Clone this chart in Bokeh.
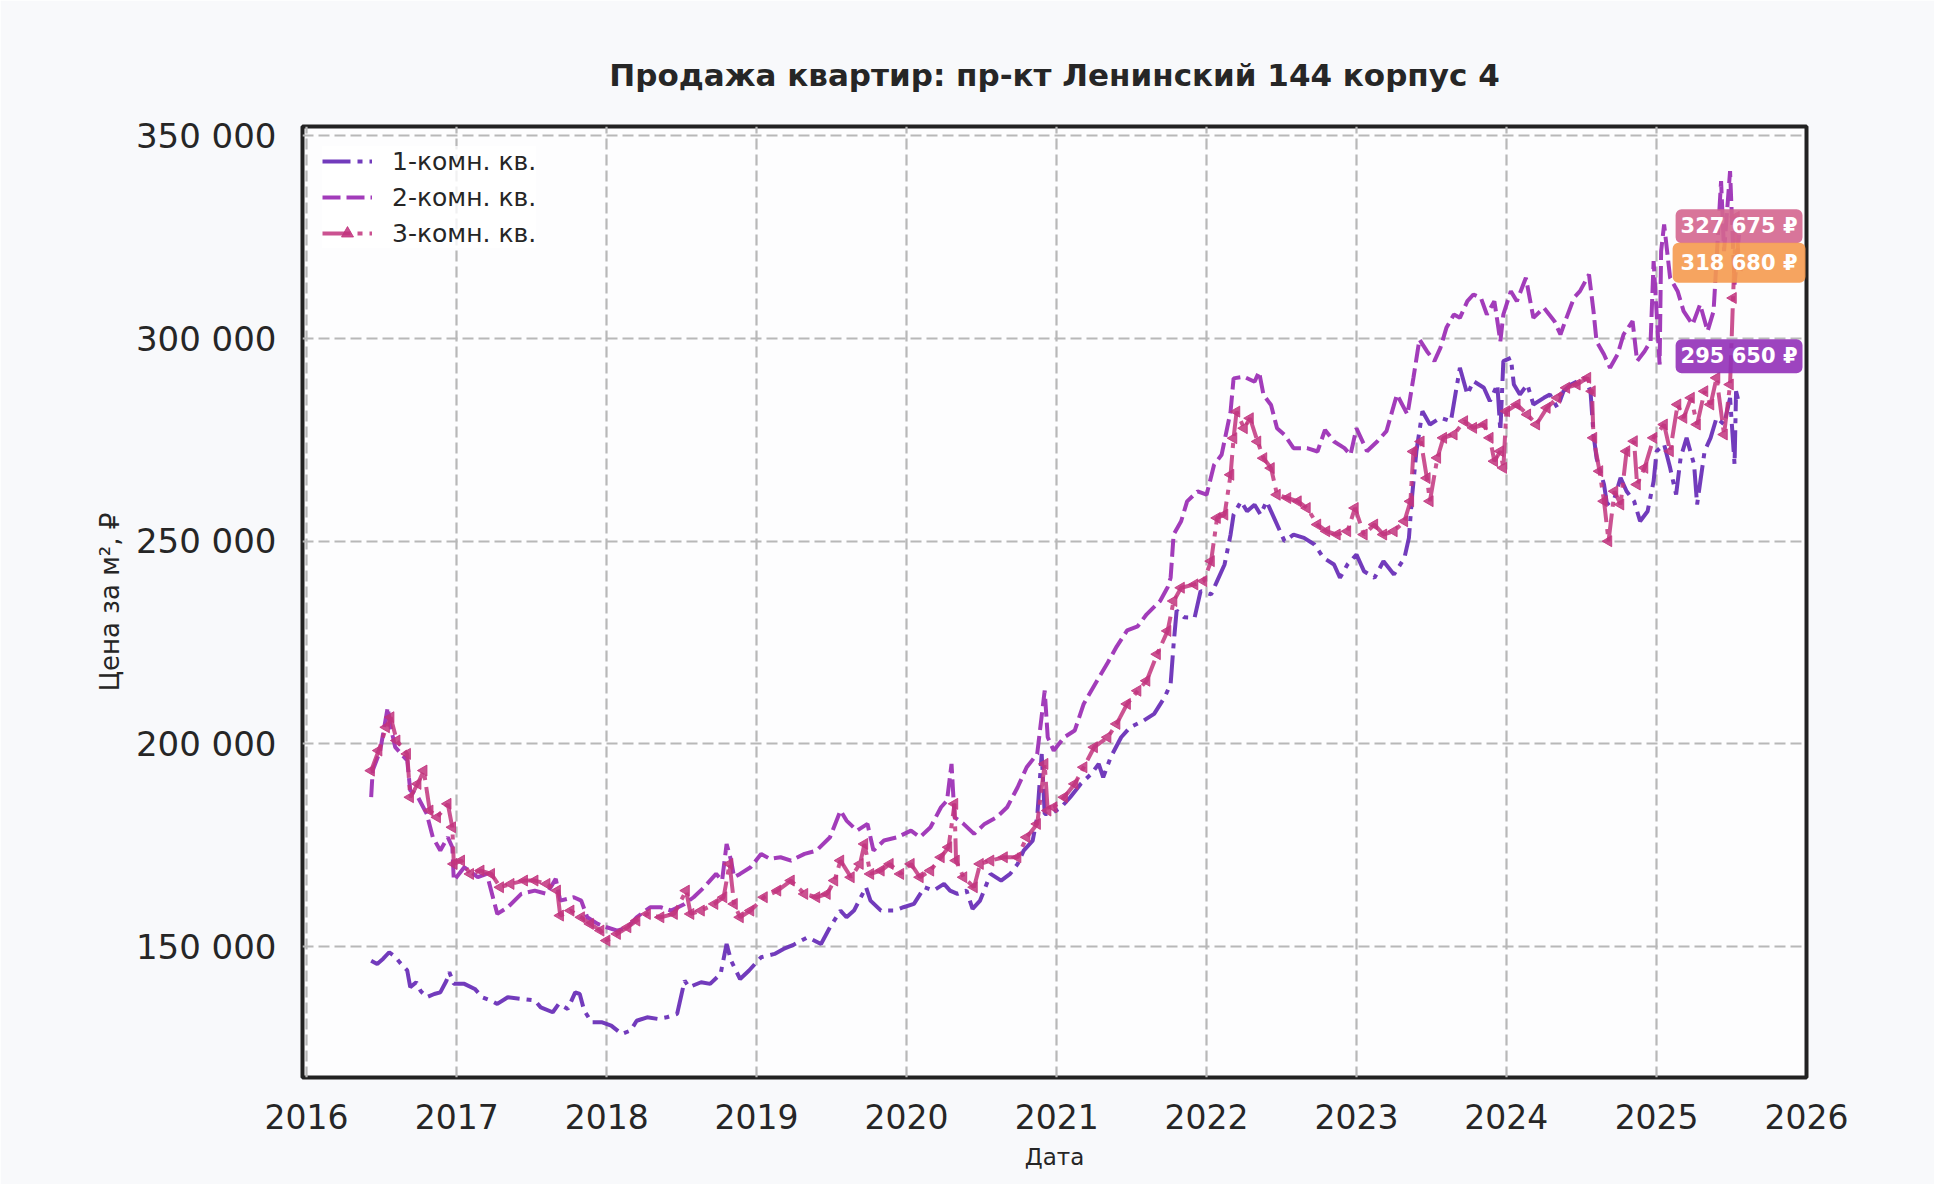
import math
import pandas as pd
from bokeh.plotting import figure
from bokeh.models import (Range1d, FixedTicker, Legend, LegendItem, Label,
                          DatetimeTickFormatter)
from bokeh.embed import file_html
from bokeh.resources import INLINE

# ---------------- data (decimal years, price per m2) ----------------
title_text = "Продажа квартир: пр-кт Ленинский 144 корпус 4"
series_names = ["1-комн. кв.", "2-комн. кв.", "3-комн. кв."]
year_ticks = [2016, 2017, 2018, 2019, 2020, 2021, 2022, 2023, 2024, 2025, 2026]
price_ticks = [150000, 200000, 250000, 300000, 350000]
price_tick_labels = ["150 000", "200 000", "250 000", "300 000", "350 000"]

dates_1 = [2016.43, 2016.47, 2016.51, 2016.55, 2016.59, 2016.62, 2016.67, 2016.69, 2016.73, 2016.76,
           2016.80, 2016.85, 2016.89, 2016.93, 2016.95, 2016.98, 2017.05, 2017.12, 2017.17, 2017.22,
           2017.27, 2017.34, 2017.43, 2017.52, 2017.56, 2017.64, 2017.68, 2017.74, 2017.79, 2017.82,
           2017.85, 2017.90, 2017.97, 2018.03, 2018.10, 2018.16, 2018.20, 2018.27, 2018.34, 2018.40,
           2018.47, 2018.52, 2018.55, 2018.63, 2018.69, 2018.76, 2018.80, 2018.83, 2018.89, 2018.95,
           2019.03, 2019.12, 2019.18, 2019.25, 2019.34, 2019.43, 2019.49, 2019.56, 2019.60, 2019.65,
           2019.73, 2019.76, 2019.83, 2019.92, 2019.98, 2020.05, 2020.12, 2020.18, 2020.25, 2020.29,
           2020.34, 2020.40, 2020.44, 2020.49, 2020.56, 2020.63, 2020.69, 2020.74, 2020.78, 2020.84,
           2020.87, 2020.90, 2020.92, 2020.96, 2021.03, 2021.09, 2021.16, 2021.23, 2021.28, 2021.31,
           2021.36, 2021.43, 2021.49, 2021.58, 2021.65, 2021.72, 2021.76, 2021.78, 2021.80, 2021.85,
           2021.92, 2021.96, 2022.03, 2022.07, 2022.12, 2022.16, 2022.18, 2022.23, 2022.27, 2022.32,
           2022.36, 2022.40, 2022.45, 2022.52, 2022.58, 2022.65, 2022.72, 2022.78, 2022.85, 2022.89,
           2022.94, 2023.00, 2023.05, 2023.12, 2023.18, 2023.25, 2023.32, 2023.35, 2023.37, 2023.40,
           2023.44, 2023.49, 2023.56, 2023.63, 2023.69, 2023.74, 2023.78, 2023.85, 2023.89, 2023.94,
           2023.96, 2023.98, 2024.03, 2024.05, 2024.09, 2024.14, 2024.18, 2024.25, 2024.29, 2024.34,
           2024.38, 2024.43, 2024.52, 2024.56, 2024.58, 2024.60, 2024.65, 2024.67, 2024.72, 2024.76,
           2024.80, 2024.85, 2024.89, 2024.94, 2024.98, 2025.00, 2025.05, 2025.09, 2025.13, 2025.16,
           2025.20, 2025.25, 2025.27, 2025.32, 2025.36, 2025.40, 2025.45, 2025.49, 2025.52, 2025.53,
           2025.55]
price_1 = [146500, 145700, 147000, 148600, 147500, 146100, 144100, 140000, 141200, 139000,
           137500, 138300, 138700, 141500, 143700, 140800, 140800, 139550, 137500, 136800,
           135850, 137500, 137100, 136700, 135000, 133800, 135850, 134600, 138700, 138300,
           134200, 131300, 131300, 130500, 128450, 129300, 131700, 132550, 132150, 132550,
           133400, 141600, 140000, 141200, 140800, 143250, 150650, 146500, 142000, 144100,
           147360, 148190, 149420, 150500, 152300, 150650, 154760, 158870, 157230, 158870,
           164630, 161340, 158870, 158870, 159700, 160520, 164630, 163800, 165450, 163800,
           162980, 163800, 159280, 161340, 167920, 166280, 167920, 170390, 173680, 176150,
           181900, 197500, 182700, 182720, 184370, 186840, 190130, 192590, 195060, 191770,
           196700, 201640, 204100, 205750, 207390, 211500, 214800, 224660, 232890, 231240,
           231140, 237700, 236880, 240160, 244260, 251640, 256560, 259830, 257370, 259010,
           256560, 259830, 255740, 250000, 251640, 250820, 249180, 245900, 244260, 240980,
           244260, 246720, 242600, 240950, 245070, 241780, 245890, 250820, 260690, 272200,
           282070, 278790, 280430, 279610, 292770, 286190, 289480, 287840, 284550, 288650,
           277140, 294410, 295230, 288650, 286190, 288650, 283720, 285360, 286190, 282890,
           286990, 288650, 290290, 286990, 276320, 270560, 263980, 259050, 260690, 265620,
           262330, 259870, 254930, 257400, 264800, 272200, 273850, 268090, 261510, 270560,
           275490, 268910, 259050, 272200, 275490, 280430, 278790, 285360, 268910, 287000,
           284000]

dates_2 = [2016.43, 2016.44, 2016.49, 2016.54, 2016.56, 2016.59, 2016.67, 2016.69, 2016.73, 2016.80,
           2016.84, 2016.89, 2016.94, 2016.97, 2016.98, 2017.05, 2017.14, 2017.20, 2017.27, 2017.34,
           2017.43, 2017.52, 2017.60, 2017.66, 2017.69, 2017.78, 2017.83, 2017.87, 2017.94, 2018.00,
           2018.07, 2018.14, 2018.20, 2018.29, 2018.36, 2018.43, 2018.52, 2018.58, 2018.65, 2018.73,
           2018.77, 2018.80, 2018.83, 2018.85, 2018.89, 2018.96, 2019.03, 2019.09, 2019.16, 2019.23,
           2019.32, 2019.40, 2019.49, 2019.56, 2019.60, 2019.67, 2019.74, 2019.78, 2019.85, 2019.94,
           2020.03, 2020.09, 2020.16, 2020.23, 2020.27, 2020.30, 2020.32, 2020.38, 2020.45, 2020.52,
           2020.60, 2020.67, 2020.74, 2020.80, 2020.87, 2020.92, 2020.94, 2020.98, 2021.05, 2021.12,
           2021.18, 2021.27, 2021.34, 2021.40, 2021.47, 2021.54, 2021.60, 2021.69, 2021.74, 2021.76,
           2021.78, 2021.83, 2021.87, 2021.94, 2022.00, 2022.05, 2022.10, 2022.16, 2022.18, 2022.25,
           2022.32, 2022.35, 2022.38, 2022.43, 2022.47, 2022.52, 2022.58, 2022.67, 2022.74, 2022.79,
           2022.85, 2022.92, 2022.96, 2023.00, 2023.07, 2023.14, 2023.20, 2023.27, 2023.34, 2023.38,
           2023.42, 2023.47, 2023.52, 2023.56, 2023.60, 2023.65, 2023.69, 2023.74, 2023.78, 2023.83,
           2023.87, 2023.92, 2023.96, 2023.98, 2024.03, 2024.07, 2024.13, 2024.18, 2024.25, 2024.32,
           2024.36, 2024.40, 2024.45, 2024.49, 2024.55, 2024.58, 2024.60, 2024.65, 2024.69, 2024.74,
           2024.78, 2024.84, 2024.87, 2024.92, 2024.96, 2024.98, 2025.02, 2025.03, 2025.05, 2025.09,
           2025.14, 2025.18, 2025.24, 2025.29, 2025.34, 2025.38, 2025.43, 2025.45, 2025.49, 2025.52,
           2025.55]
price_2 = [186840, 193400, 198350, 209000, 204100, 199200, 195900, 188480, 187660, 182730,
           176970, 173680, 176970, 174500, 166280, 169570, 167100, 167920, 158050, 159700,
           163000, 163800, 163000, 166700, 161340, 162170, 161340, 157230, 155590, 154760,
           153940, 154760, 157230, 159700, 159700, 158870, 160520, 162170, 164630, 167920,
           166280, 175325, 171210, 167100, 167920, 169570, 172860, 171620, 172030, 171210,
           172860, 173680, 176970, 183550, 181080, 178610, 180260, 173680, 176150, 176970,
           178610, 176970, 179430, 184370, 186020, 195060, 181900, 180260, 177790, 180260,
           181900, 184370, 189300, 194240, 197530, 213150, 201640, 198350, 201640, 203290,
           209860, 215620, 220000, 224000, 228000, 229000, 231960, 235240, 238650, 240980,
           251640, 254920, 259830, 262290, 261470, 268850, 271310, 281960, 290160, 290570,
           289340, 291800, 286070, 283600, 277870, 276230, 272950, 272950, 272130, 277460,
           274590, 272950, 271310, 277870, 272200, 274670, 277140, 286190, 281250, 290290,
           299750, 296870, 294410, 297700, 302630, 305920, 305100, 309210, 310860, 310040,
           305920, 309210, 299340, 305920, 311680, 309210, 314970, 305100, 307570, 304280,
           300990, 305100, 310040, 311680, 315790, 306740, 299340, 296050, 292770, 296050,
           300990, 304280, 294410, 296870, 299340, 319080, 293580, 321550, 328130, 314970,
           311680, 306740, 303450, 308390, 301810, 306740, 338820, 321550, 341290, 313320,
           325660]

dates_3 = [2016.43, 2016.48, 2016.53, 2016.56, 2016.60, 2016.67, 2016.69, 2016.74, 2016.78, 2016.82,
           2016.87, 2016.94, 2016.97, 2016.98, 2017.03, 2017.09, 2017.16, 2017.23, 2017.29, 2017.36,
           2017.45, 2017.52, 2017.60, 2017.67, 2017.69, 2017.76, 2017.83, 2017.89, 2017.96, 2018.00,
           2018.07, 2018.14, 2018.20, 2018.27, 2018.36, 2018.45, 2018.53, 2018.56, 2018.63, 2018.72,
           2018.78, 2018.82, 2018.85, 2018.89, 2018.96, 2019.05, 2019.14, 2019.23, 2019.32, 2019.40,
           2019.47, 2019.52, 2019.56, 2019.63, 2019.69, 2019.72, 2019.76, 2019.83, 2019.89, 2019.96,
           2020.03, 2020.09, 2020.16, 2020.23, 2020.28, 2020.32, 2020.33, 2020.38, 2020.45, 2020.49,
           2020.56, 2020.65, 2020.74, 2020.80, 2020.87, 2020.92, 2020.94, 2020.98, 2021.05, 2021.12,
           2021.18, 2021.25, 2021.34, 2021.40, 2021.47, 2021.54, 2021.60, 2021.67, 2021.74, 2021.78,
           2021.83, 2021.92, 2021.98, 2022.03, 2022.07, 2022.12, 2022.16, 2022.18, 2022.20, 2022.25,
           2022.29, 2022.34, 2022.38, 2022.43, 2022.47, 2022.54, 2022.61, 2022.67, 2022.74, 2022.80,
           2022.87, 2022.94, 2022.99, 2023.05, 2023.12, 2023.18, 2023.25, 2023.32, 2023.36, 2023.38,
           2023.43, 2023.47, 2023.49, 2023.54, 2023.58, 2023.65, 2023.72, 2023.78, 2023.85, 2023.89,
           2023.92, 2023.96, 2023.98, 2024.00, 2024.07, 2024.14, 2024.20, 2024.27, 2024.34, 2024.40,
           2024.47, 2024.54, 2024.57, 2024.58, 2024.62, 2024.65, 2024.68, 2024.72, 2024.76, 2024.80,
           2024.85, 2024.87, 2024.92, 2024.98, 2025.05, 2025.09, 2025.14, 2025.18, 2025.23, 2025.27,
           2025.32, 2025.36, 2025.40, 2025.45, 2025.49, 2025.51, 2025.53, 2025.55]
price_3 = [193400, 198350, 204100, 206575, 200820, 197530, 186840, 190130, 193420, 183550,
           181900, 185200, 179430, 170390, 171210, 167920, 168740, 167920, 164630, 165450,
           166280, 166280, 165450, 163800, 157640, 158870, 157230, 155590, 153940, 151480,
           153120, 154760, 156410, 158050, 157230, 158050, 163800, 158050, 158870, 160520,
           162170, 170390, 160520, 157230, 158870, 162170, 163800, 166280, 162980, 162170,
           162980, 166280, 171210, 167100, 170390, 175320, 167920, 168740, 170390, 167920,
           170390, 167100, 168740, 172030, 174500, 185200, 171210, 167100, 164630, 170390,
           171210, 172030, 172030, 176970, 180260, 195060, 183550, 184370, 186840, 190130,
           194240, 199180, 201640, 204930, 209860, 213110, 215570, 222130, 227870, 235240,
           238520, 239340, 240160, 245080, 255740, 256560, 266390, 275410, 281960, 277870,
           280330, 274590, 270490, 268030, 261470, 260650, 259830, 258190, 254100, 252460,
           251640, 252460, 258190, 251640, 254100, 251640, 252460, 254920, 259830, 272130,
           274590, 265570, 259870, 270560, 275490, 276320, 279610, 277960, 278790, 275490,
           269740, 272200, 268090, 282070, 283720, 281250, 278790, 282890, 285360, 287840,
           288650, 290290, 286990, 275490, 267270, 259870, 250000, 262330, 259050, 272200,
           274670, 263980, 268090, 275490, 278790, 272200, 283720, 280430, 285360, 278790,
           286990, 283720, 290290, 276320, 288650, 310000, 330000, 318000]

badge_values = [327675, 318680, 295650]
badge_texts = ["327 675 ₽", "318 680 ₽", "295 650 ₽"]
badge_colors = ["#d4668f", "#f59a4f", "#9230b8"]
badge_pads = [5, 8, 5]

line_colors = ["#6a30b8", "#9d32b6", "#c2347e"]
FONT = "DejaVu Sans"
TXT = "#262626"


def to_dt(years):
    out = []
    for y in years:
        y0 = int(math.floor(y))
        a = pd.Timestamp(year=y0, month=1, day=1)
        b = pd.Timestamp(year=y0 + 1, month=1, day=1)
        out.append(a + (b - a) * (y - y0))
    return out


def ms(ts):
    return ts.value / 1e6


x1, x2, x3 = to_dt(dates_1), to_dt(dates_2), to_dt(dates_3)

x_start = ms(to_dt([2015.973])[0])
x_end = ms(to_dt([2026.0])[0])

p = figure(width=1934, height=1184, x_axis_type="datetime",
           output_backend="svg", toolbar_location=None,
           x_range=Range1d(x_start, x_end), y_range=Range1d(117700, 352300),
           min_border_left=302, min_border_right=128, min_border_top=126,
           min_border_bottom=107)

p.border_fill_color = "#f8f9fb"
p.background_fill_color = "#fdfdfe"
p.outline_line_color = "#222222"
p.outline_line_width = 4

# title
p.title.text = title_text
p.title.align = "center"
p.title.text_font = FONT
p.title.text_font_size = "31px"
p.title.text_font_style = "bold"
p.title.text_color = TXT
p.title.standoff = 68

# grid
for g in (p.xgrid, p.ygrid):
    g.grid_line_color = "#b8b8b8"
    g.grid_line_width = 2.2
    g.grid_line_dash = "11 5"

# axes
year_ms = [ms(pd.Timestamp(year=y, month=1, day=1)) for y in year_ticks]
p.xaxis.ticker = FixedTicker(ticks=year_ms)
p.xaxis.formatter = DatetimeTickFormatter(years="%Y", months="%Y", days="%Y",
                                          hours="%Y", minutes="%Y")
p.xaxis.major_label_overrides = {t: str(y) for t, y in zip(year_ms, year_ticks)}
p.yaxis.ticker = FixedTicker(ticks=price_ticks)
p.yaxis.major_label_overrides = {t: s for t, s in zip(price_ticks, price_tick_labels)}

for ax in (p.xaxis, p.yaxis):
    ax.axis_line_color = None
    ax.major_tick_line_color = None
    ax.minor_tick_line_color = None
    ax.major_tick_out = 0
    ax.major_tick_in = 0
    ax.major_label_text_font = FONT
    ax.major_label_text_color = TXT
    ax.axis_label_text_font = FONT
    ax.axis_label_text_font_style = "normal"
    ax.axis_label_text_color = TXT

p.xaxis.major_label_text_font_size = "33px"
p.yaxis.major_label_text_font_size = "34px"
p.xaxis.axis_label_text_font_size = "23px"
p.yaxis.axis_label_text_font_size = "26px"
p.xaxis.axis_label = "Дата"
p.yaxis.axis_label = "Цена за м², ₽"
p.xaxis.major_label_standoff = 26
p.yaxis.major_label_standoff = 26
p.xaxis.axis_label_standoff = 12
p.yaxis.axis_label_standoff = 8

# series
r1 = p.line(x1, price_1, line_color=line_colors[0], line_width=4,
            line_dash="28 7 5 7", line_alpha=0.95)
r2 = p.line(x2, price_2, line_color=line_colors[1], line_width=4,
            line_dash="18 6", line_alpha=0.95)
r3 = p.line(x3, price_3, line_color=line_colors[2], line_width=4,
            line_dash="28 7 5 7", line_alpha=0.85)
r3m = p.scatter(x3, price_3, marker="triangle", angle=math.pi / 2, size=11,
                fill_color=line_colors[2], line_color=line_colors[2],
                fill_alpha=0.85, line_alpha=0.85)

legend = Legend(items=[LegendItem(label=series_names[0], renderers=[r1]),
                       LegendItem(label=series_names[1], renderers=[r2]),
                       LegendItem(label=series_names[2], renderers=[r3, r3m])],
                location="top_left")
legend.label_text_font = FONT
legend.label_text_font_size = "25px"
legend.label_text_color = TXT
legend.glyph_width = 50
legend.glyph_height = 30
legend.label_standoff = 20
legend.spacing = 6
legend.padding = 10
legend.margin = 20
legend.border_line_color = None
legend.background_fill_color = "#ffffff"
legend.background_fill_alpha = 0.8
p.add_layout(legend)

# value badges at the last date
last_x = ms(max(x1[-1], x2[-1], x3[-1]))
for v, t, c, pad in zip(badge_values, badge_texts, badge_colors, badge_pads):
    lab = Label(x=last_x, y=v, text=t, text_align="center", text_baseline="middle",
                text_font=FONT, text_font_size="21px", text_font_style="bold",
                text_color="white", background_fill_color=c,
                background_fill_alpha=0.9, border_line_color=None,
                padding=pad, border_radius=6)
    p.add_layout(lab)

open("out.html", "w").write(file_html(p, INLINE))
